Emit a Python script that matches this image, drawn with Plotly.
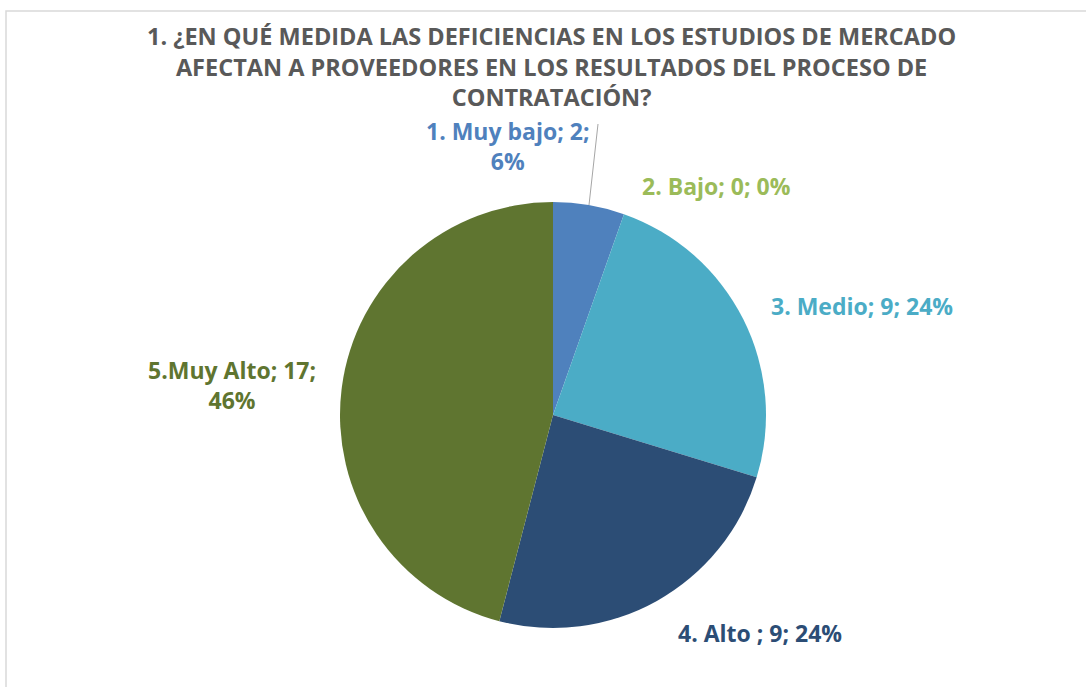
import plotly.graph_objects as go

W, H = 1086, 687

categories = ["1. Muy bajo", "2. Bajo", "3. Medio", "4. Alto ", "5.Muy Alto"]
values = [2, 0, 9, 9, 17]
percents = ["6%", "0%", "24%", "24%", "46%"]
colors = ["#4F81BD", "#9BBB59", "#4BACC6", "#2C4D75", "#5F7530"]

title = ("1. ¿EN QUÉ MEDIDA LAS DEFICIENCIAS EN LOS ESTUDIOS DE MERCADO<br>"
         "AFECTAN A PROVEEDORES EN LOS RESULTADOS DEL PROCESO DE<br>"
         "CONTRATACIÓN?")

FONT = "Open Sans"


def px_x(x):
    return x / W


def px_y(y):
    return 1 - y / H


fig = go.Figure(go.Pie(
    labels=categories,
    values=values,
    sort=False,
    direction="clockwise",
    rotation=0,
    marker=dict(colors=colors, line=dict(width=0)),
    textinfo="none",
    hoverinfo="label+value+percent",
    domain=dict(x=[px_x(340), px_x(766)], y=[px_y(628), px_y(202)]),
    showlegend=False,
))

# data labels "name; value; percent" placed like the original
label_pos = [
    (508, 146, "1. Muy bajo; 2;<br>6%"),
    (716, 186, None),
    (862, 306, None),
    (760, 633, None),
    (232, 385, "5.Muy Alto; 17;<br>46%"),
]
annotations = []
for i, (x, y, txt) in enumerate(label_pos):
    if txt is None:
        txt = f"{categories[i]}; {values[i]}; {percents[i]}"
    annotations.append(dict(
        x=px_x(x), y=px_y(y), xref="paper", yref="paper",
        text=f"<b>{txt}</b>", showarrow=False,
        font=dict(family=FONT, size=23, color=colors[i]),
        xanchor="center", yanchor="middle", align="center",
    ))

annotations.append(dict(
    x=px_x(551), y=px_y(66), xref="paper", yref="paper",
    text=f"<b>{title}</b>", showarrow=False,
    font=dict(family=FONT, size=23.5, color="#595959"),
    xanchor="center", yanchor="middle", align="center",
))

fig.update_layout(
    width=W, height=H,
    margin=dict(l=0, r=0, t=0, b=0),
    paper_bgcolor="white",
    annotations=annotations,
    shapes=[
        # leader line for the small slice
        dict(type="line", xref="paper", yref="paper",
             x0=px_x(598), y0=px_y(124), x1=px_x(589), y1=px_y(205),
             line=dict(color="#A6A6A6", width=1)),
        # chart frame
        dict(type="rect", xref="paper", yref="paper",
             x0=px_x(6), y0=px_y(H + 5), x1=px_x(W + 5), y1=px_y(11),
             line=dict(color="#D9D9D9", width=1.5)),
    ],
)

fig.write_html("out.html", config={"displayModeBar": False},
               post_script="document.body.style.margin='0';")
